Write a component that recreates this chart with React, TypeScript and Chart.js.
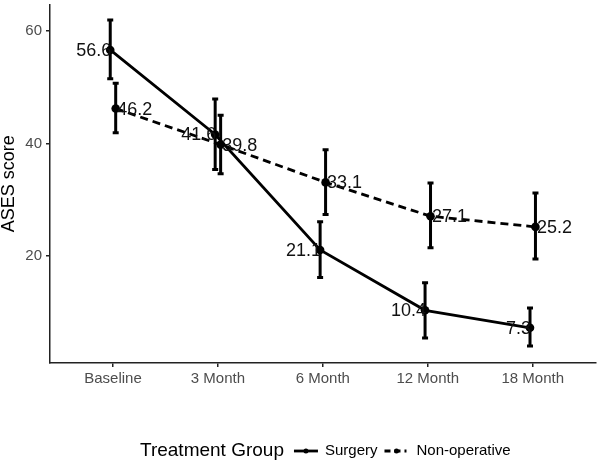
import React, { useEffect, useRef } from 'react';
import { Chart, registerables } from 'chart.js';

Chart.register(...registerables);

const categories = ['Baseline', '3 Month', '6 Month', '12 Month', '18 Month'];
const surgeryMean = [56.6, 41.6, 21.1, 10.4, 7.3];
const surgeryLow = [51.5, 35.4, 16.2, 5.5, 4.05];
const surgeryHigh = [61.9, 47.9, 26.1, 15.3, 10.8];
const nonopMean = [46.2, 39.8, 33.1, 27.1, 25.2];
const nonopLow = [41.9, 34.65, 27.4, 21.5, 19.5];
const nonopHigh = [50.7, 45.0, 38.9, 33.0, 31.2];
const yTicks = [20, 40, 60];
const legendTitle = 'Treatment Group';
const seriesNames = ['Surgery', 'Non-operative'];
const yTitle = 'ASES score';

const FONT = "'Liberation Sans', Arial, sans-serif";
const DODGE = 0.026;

export default function App() {
  const ref = useRef<HTMLCanvasElement>(null);

  useEffect(() => {
    const canvas = ref.current!;
    const overlay = {
      id: 'overlay',
      afterDatasetsDraw(chart: any) {
        const ctx = chart.ctx as CanvasRenderingContext2D;
        const xs = chart.scales.x;
        const ys = chart.scales.y;
        ctx.save();
        ctx.strokeStyle = '#000';
        ctx.lineWidth = 3;
        ctx.setLineDash([]);
        const drawErr = (lows: number[], highs: number[], off: number) => {
          lows.forEach((lo, i) => {
            const x = xs.getPixelForValue(i + 1 + off);
            const y1 = ys.getPixelForValue(lo);
            const y2 = ys.getPixelForValue(highs[i]);
            ctx.beginPath();
            ctx.moveTo(x, y1);
            ctx.lineTo(x, y2);
            ctx.moveTo(x - 3, y1);
            ctx.lineTo(x + 3, y1);
            ctx.moveTo(x - 3, y2);
            ctx.lineTo(x + 3, y2);
            ctx.stroke();
          });
        };
        drawErr(surgeryLow, surgeryHigh, -DODGE);
        drawErr(nonopLow, nonopHigh, DODGE);

        ctx.font = `18px ${FONT}`;
        ctx.fillStyle = '#111';
        ctx.textBaseline = 'middle';
        ctx.textAlign = 'right';
        surgeryMean.forEach((v, i) => {
          const x = xs.getPixelForValue(i + 1 - DODGE);
          const y = ys.getPixelForValue(v);
          ctx.fillText(v.toFixed(1), x + 1, y + 1);
        });
        ctx.textAlign = 'left';
        nonopMean.forEach((v, i) => {
          const x = xs.getPixelForValue(i + 1 + DODGE);
          const y = ys.getPixelForValue(v);
          ctx.fillText(v.toFixed(1), x + 1.5, y + 1);
        });
        ctx.restore();
      },
      afterDraw(chart: any) {
        const ctx = chart.ctx as CanvasRenderingContext2D;
        ctx.save();
        const y = 451;
        let x = 140;
        ctx.fillStyle = '#000';
        ctx.textBaseline = 'middle';
        ctx.textAlign = 'left';
        ctx.font = `19px ${FONT}`;
        ctx.fillText(legendTitle, x, y);
        x += ctx.measureText(legendTitle).width + 10;
        ctx.strokeStyle = '#000';
        ctx.lineWidth = 2.8;
        ctx.setLineDash([]);
        ctx.beginPath();
        ctx.moveTo(x, y);
        ctx.lineTo(x + 24, y);
        ctx.stroke();
        ctx.beginPath();
        ctx.arc(x + 12, y, 2.5, 0, Math.PI * 2);
        ctx.fill();
        x += 31;
        ctx.font = `15px ${FONT}`;
        ctx.fillText(seriesNames[0], x, y);
        x += ctx.measureText(seriesNames[0]).width + 7;
        ctx.setLineDash([6, 4]);
        ctx.beginPath();
        ctx.moveTo(x, y);
        ctx.lineTo(x + 22, y);
        ctx.stroke();
        ctx.setLineDash([]);
        ctx.beginPath();
        ctx.arc(x + 12, y, 2.5, 0, Math.PI * 2);
        ctx.fill();
        x += 32;
        ctx.fillText(seriesNames[1], x, y);
        ctx.restore();
      },
    };

    const chart = new Chart(canvas, {
      type: 'line',
      data: {
        datasets: [
          {
            label: seriesNames[0],
            data: surgeryMean.map((v, i) => ({ x: i + 1 - DODGE, y: v })),
            borderColor: '#000',
            backgroundColor: '#000',
            borderWidth: 2.8,
            pointRadius: 4.3,
            pointBackgroundColor: '#000',
            pointBorderColor: '#000',
            pointBorderWidth: 0,
            tension: 0,
          },
          {
            label: seriesNames[1],
            data: nonopMean.map((v, i) => ({ x: i + 1 + DODGE, y: v })),
            borderColor: '#000',
            backgroundColor: '#000',
            borderWidth: 2.8,
            borderDash: [8, 5],
            pointRadius: 4.3,
            pointBackgroundColor: '#000',
            pointBorderColor: '#000',
            pointBorderWidth: 0,
            tension: 0,
          },
        ],
      },
      options: {
        animation: false,
        responsive: false,
        layout: { padding: { top: 0, right: 3, left: 0, bottom: 0 } },
        plugins: { legend: { display: false }, tooltip: { enabled: false } },
        scales: {
          x: {
            type: 'linear',
            min: 0.4,
            max: 5.6,
            afterBuildTicks: (s: any) => {
              s.ticks = categories.map((_, i) => ({ value: i + 1 }));
            },
            ticks: {
              callback: (_v: any, i: number) => categories[i],
              font: { family: FONT, size: 15 },
              color: '#4d4d4d',
              padding: 3,
              autoSkip: false,
              maxRotation: 0,
            },
            grid: { drawOnChartArea: false, tickLength: 4, color: '#222', lineWidth: 1.5 },
            border: { color: '#222', width: 1.5 },
            afterFit: (s: any) => {
              s.height = 99;
              s.paddingLeft = 0;
              s.paddingRight = 0;
            },
          },
          y: {
            type: 'linear',
            min: 1.05,
            max: 64.7,
            afterBuildTicks: (s: any) => {
              s.ticks = yTicks.map((v) => ({ value: v }));
            },
            ticks: {
              font: { family: FONT, size: 15 },
              color: '#4d4d4d',
              padding: 4,
            },
            grid: { drawOnChartArea: false, tickLength: 4, color: '#222', lineWidth: 1.5 },
            border: { color: '#222', width: 1.5 },
            title: {
              display: true,
              text: yTitle,
              font: { family: FONT, size: 18, lineHeight: 1 },
              color: '#000',
              padding: 0,
            },
            afterFit: (s: any) => {
              s.width = 50;
              s.paddingTop = 0;
              s.paddingBottom = 0;
            },
          },
        },
      },
      plugins: [overlay],
    } as any);

    return () => chart.destroy();
  }, []);

  return (
    <canvas
      ref={ref}
      width={600}
      height={462}
      style={{ position: 'fixed', left: 0, top: 0, width: 600, height: 462 }}
    />
  );
}
